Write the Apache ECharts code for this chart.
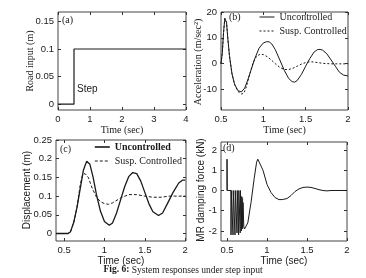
<!DOCTYPE html>
<html><head><meta charset="utf-8">
<script src="https://cdn.jsdelivr.net/npm/echarts@6/dist/echarts.min.js"></script>
<style>html,body{margin:0;padding:0;background:#fff}#c{width:366px;height:278px}</style>
</head><body><div id="c"></div>
<script>
// (a) road input
const stepT = [0, 0.5, 0.5, 4];
const stepY = [0, 0, 0.1, 0.1];
// (b) acceleration
const accUncT = [0.5,0.515,0.53,0.545,0.555,0.565,0.58,0.6,0.63,0.66,0.7,0.74,0.78,0.82,0.86,0.9,0.95,1.0,1.04,1.07,1.1,1.14,1.2,1.25,1.3,1.34,1.37,1.4,1.45,1.5,1.55,1.6,1.64,1.67,1.7,1.75,1.8,1.85,1.9,1.95,2.0];
const accUncY = [0,4,12,17.5,18,16,10,3,-4,-8,-10.5,-11,-9.5,-6,-2,2,6,8,8.5,8.4,7.6,5.5,1,-2.8,-5.8,-7,-7.2,-6.6,-4.2,-1,2,4.5,5.4,5.5,5.2,3.8,1.4,-1,-3.4,-4.5,-4.8];
const accCtlT = [0.5,0.515,0.53,0.545,0.555,0.565,0.58,0.6,0.63,0.66,0.7,0.74,0.77,0.8,0.84,0.88,0.92,0.96,1.0,1.05,1.1,1.15,1.2,1.25,1.3,1.35,1.4,1.45,1.5,1.55,1.6,1.7,1.8,1.9,2.0];
const accCtlY = [0,4,12,17.5,18,16,10,3,-4,-8,-10.8,-11.8,-11.5,-9,-4,0.5,2.8,3.6,3.5,2.6,1.2,-0.3,-1.6,-2.3,-2.3,-1.8,-1.0,-0.2,0.4,0.7,0.6,0.1,-0.1,-0.1,-0.1];
// (c) displacement
const disUncT = [0.4,0.55,0.58,0.62,0.66,0.7,0.74,0.78,0.82,0.86,0.9,0.95,1.0,1.06,1.1,1.15,1.2,1.25,1.3,1.35,1.4,1.45,1.5,1.55,1.6,1.67,1.72,1.78,1.85,1.92,1.97,2.0];
const disUncY = [0,0,0.005,0.03,0.07,0.12,0.17,0.193,0.185,0.15,0.105,0.06,0.032,0.022,0.028,0.055,0.09,0.125,0.152,0.163,0.16,0.14,0.11,0.08,0.058,0.048,0.055,0.08,0.11,0.135,0.143,0.143];
const disCtlT = [0.4,0.55,0.58,0.62,0.66,0.7,0.73,0.76,0.8,0.85,0.9,0.95,1.0,1.05,1.1,1.2,1.3,1.4,1.5,1.6,1.7,1.8,1.9,2.0];
const disCtlY = [0,0,0.005,0.03,0.07,0.13,0.158,0.16,0.15,0.12,0.098,0.085,0.08,0.078,0.082,0.095,0.104,0.104,0.1,0.097,0.097,0.1,0.1,0.1];
// (d) MR damping force
const frcT = [0.5,0.5,0.503,0.55,0.55,0.553,0.575,0.575,0.578,0.6,0.6,0.603,0.625,0.625,0.628,0.645,0.645,0.648,0.665,0.665,0.668,0.68,0.68,0.683,0.695,0.695,0.7,0.71,0.72,0.74,0.76,0.8,0.84,0.87,0.885,0.9,0.95,1.0,1.05,1.1,1.15,1.19,1.25,1.3,1.35,1.4,1.45,1.5,1.55,1.6,1.65,1.7,1.75,1.8,1.9,2.0];
const frcY = [0,1.55,0,0,-2.2,0,0,-2.2,0,0,-2.2,0,0,-2.1,0,0,-2.2,0,0,-2.1,0,0,-2.0,-0.3,-0.4,-1.9,-0.6,-1.8,-1.9,-1.85,-1.6,-0.6,0.6,1.4,1.55,1.5,1.0,0.3,-0.1,-0.35,-0.45,-0.45,-0.4,-0.25,-0.05,0.08,0.15,0.17,0.15,0.1,0.04,0.0,-0.02,0,0,0];

const zip = (a, b) => a.map((v, i) => [v, b[i]]);
const SANS = 'Liberation Sans, Arial, sans-serif';
const SERIF = 'Liberation Serif, Times New Roman, serif';
const INK = '#1a1a1a';

const aXTicks = [0,1,2,3,4], aYTicks = [0,0.05,0.1,0.15];
const bXTicks = [0.5,1,1.5,2], bYTicks = [-10,0,10,20];
const cXTicks = [0.5,1,1.5,2], cYTicks = [0,0.05,0.1,0.15,0.2,0.25];
const dXTicks = [0.5,1,1.5,2], dYTicks = [-2,-1,0,1,2];

function ax(grid, min, max, ticks, pos, showLab, name, nameFont, nameGap) {
  return {
    type: 'value', gridIndex: grid, min: min, max: max, position: pos,
    splitLine: {show: false},
    axisLine: {show: false, onZero: false},
    axisTick: {show: true, inside: true, length: 3, customValues: ticks, lineStyle: {color: '#333', width: 1}},
    axisLabel: {show: showLab, customValues: ticks, color: INK, fontSize: 9.5, fontFamily: SANS, margin: 4},
    name: name || '', nameLocation: 'middle', nameGap: nameGap || 10,
    nameTextStyle: {color: INK, fontSize: 10, fontFamily: nameFont || SANS}
  };
}

const grids = [
  {left: 58, top: 12, width: 128, height: 98},
  {left: 221, top: 12, width: 127, height: 98},
  {left: 56, top: 140, width: 130, height: 101},
  {left: 221, top: 142, width: 126, height: 99}
].map(g => Object.assign(g, {show: true, borderColor: '#444', borderWidth: 1, backgroundColor: '#fff'}));

const xAxes = [
  ax(0,0,4,aXTicks,'bottom',true,'Time (sec)',SERIF,11),
  ax(1,0.5,2,bXTicks,'bottom',true,'Time (sec)',SERIF,11),
  ax(2,0.4,2.01,cXTicks,'bottom',true,'Time (sec)',SANS,12),
  ax(3,0.425,2,dXTicks,'bottom',true,'Time (sec)',SANS,12),
  ax(0,0,4,aXTicks,'top',false),
  ax(1,0.5,2,bXTicks,'top',false),
  ax(2,0.4,2.01,cXTicks,'top',false),
  ax(3,0.425,2,dXTicks,'top',false)
];
const yAxes = [
  ax(0,-0.0105,0.167,aYTicks,'left',true),
  ax(1,-18,20,bYTicks,'left',true),
  ax(2,-0.02,0.25,cYTicks,'left',true),
  ax(3,-2.5,2.4,dYTicks,'left',true),
  ax(0,-0.0105,0.167,aYTicks,'right',false),
  ax(1,-18,20,bYTicks,'right',false),
  ax(2,-0.02,0.25,cYTicks,'right',false),
  ax(3,-2.5,2.4,dYTicks,'right',false)
];

function line(name, xi, t, y, style) {
  return {type: 'line', name: name, xAxisIndex: xi, yAxisIndex: xi, data: zip(t, y),
    showSymbol: false, symbol: 'none', animation: false, silent: true,
    itemStyle: {color: INK},
    lineStyle: Object.assign({color: INK, width: 1}, style)};
}

const series = [
  line('Step', 0, stepT, stepY, {width: 1.2}),
  line('Uncontrolled', 1, accUncT, accUncY, {width: 1}),
  line('Susp. Controlled', 1, accCtlT, accCtlY, {width: 1, type: [2, 2]}),
  line('c-Uncontrolled', 2, disUncT, disUncY, {width: 1.3}),
  line('c-Susp. Controlled', 2, disCtlT, disCtlY, {width: 1, type: [3, 2]}),
  line('Force', 3, frcT, frcY, {width: 1})
];

const lbl = (text, left, top, font, extra) => ({text: text, left: left, top: top, padding: 0,
  textStyle: Object.assign({fontSize: 10, fontWeight: 'normal', fontFamily: font, color: INK}, extra || {})});

const yName = (text, x, y, font) => ({type: 'text', x: x, y: y, rotation: Math.PI / 2, silent: true,
  style: {text: text, fill: INK, font: '10px ' + font, align: 'center', verticalAlign: 'middle'}});

const legendCommon = {orient: 'vertical', itemWidth: 15, itemHeight: 8, itemGap: 4, padding: 0,
  selectedMode: false, itemStyle: {opacity: 0, borderWidth: 0}};

const option = {
  backgroundColor: '#fff',
  animation: false,
  grid: grids, xAxis: xAxes, yAxis: yAxes, series: series,
  legend: [
    Object.assign({left: 259, top: 12, data: ['Uncontrolled', 'Susp. Controlled'],
     lineStyle: {width: 1},
     textStyle: {fontFamily: SERIF, fontSize: 10, color: INK}}, legendCommon),
    Object.assign({left: 94, top: 142,
     data: [{name: 'c-Uncontrolled', textStyle: {fontWeight: 'bold'}, lineStyle: {width: 1.6}}, 'c-Susp. Controlled'],
     lineStyle: {width: 1},
     formatter: n => n.replace('c-', ''),
     textStyle: {fontFamily: SERIF, fontSize: 10, color: INK}}, legendCommon)
  ],
  title: [
    lbl('(a)', 62, 15, SERIF),
    lbl('(b)', 229, 12, SERIF),
    lbl('(c)', 60, 144, SERIF),
    lbl('(d)', 223, 143, SERIF),
    lbl('Step', 77, 84, SANS),
    {text: '{b|Fig. 6:} System responses under step input', left: 'center', top: 265, padding: 0,
     textStyle: {fontSize: 9.5, fontWeight: 'normal', fontFamily: SERIF, color: INK,
       rich: {b: {fontWeight: 'bold', fontSize: 9.5, fontFamily: SERIF, color: INK}}}}
  ],
  graphic: [
    yName('Road input (m)', 30, 61, SERIF),
    yName('Acceleration (m/sec\u00B2)', 198, 62, SERIF),
    yName('Displacement (m)', 27, 190, SANS),
    yName('MR damping force (kN)', 201, 190, SANS)
  ]
};
const chart = echarts.init(document.getElementById('c'), null, {renderer: 'canvas'});
chart.setOption(option);
</script></body></html>
